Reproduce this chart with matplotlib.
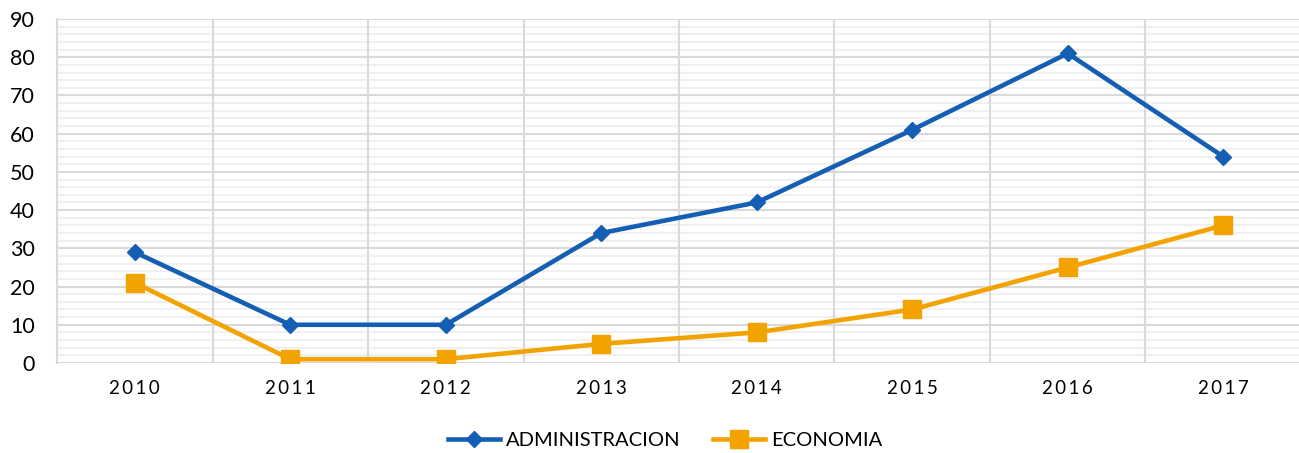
import numpy as np
import matplotlib
matplotlib.use('Agg')
import matplotlib.pyplot as plt
from matplotlib.ticker import MultipleLocator

# data
years = ['2010', '2011', '2012', '2013', '2014', '2015', '2016', '2017']
administracion = [29, 10, 10, 34, 42, 61, 81, 54]
economia = [21, 1, 1, 5, 8, 14, 25, 36]

plt.rcParams['font.family'] = ['Lato', 'DejaVu Sans']

fig = plt.figure(figsize=(12.99, 4.53), dpi=100)
ax = fig.add_axes([57 / 1299, 1 - 363 / 453, 1244 / 1299, 344 / 453])

x = np.arange(len(years))
blue = '#145fb3'
orange = '#f3a300'
ax.plot(x, administracion, color=blue, lw=3.3, marker='D', ms=8.5,
        label='ADMINISTRACION', zorder=3)
ax.plot(x, economia, color=orange, lw=3.3, marker='s', ms=12.5,
        label='ECONOMIA', zorder=3)

ax.set_xlim(-0.5, len(years) - 0.5)
ax.set_ylim(0, 90)
ax.yaxis.set_major_locator(MultipleLocator(10))
ax.yaxis.set_minor_locator(MultipleLocator(2))
ax.set_xticks(x)
ax.set_xticklabels(['\u2009'.join(y) for y in years], fontsize=13.5)
ax.tick_params(axis='x', which='both', length=0, pad=12)
ax.tick_params(axis='y', which='both', length=0, pad=16, labelsize=15.5)

ax.yaxis.grid(True, which='minor', color='#f0f0f0', lw=1.5)
ax.yaxis.grid(True, which='major', color='#d9d9d9', lw=1.5)
ax.xaxis.grid(False)
# category boundary lines
for b in x[:-1] + 0.5:
    ax.axvline(b, color='#d9d9d9', lw=1.5, zorder=1)
ax.set_axisbelow(True)
for s in ['top', 'right', 'bottom']:
    ax.spines[s].set_visible(False)
ax.spines['left'].set_color('#d9d9d9')
ax.spines['left'].set_linewidth(1.5)

ax.legend(loc='center', bbox_to_anchor=(665 / 1299, 1 - 440 / 453),
          bbox_transform=fig.transFigure, ncol=2, frameon=False,
          fontsize=14.5, handlelength=2.6, columnspacing=1.6,
          handletextpad=0.3)

fig.savefig('out.png', dpi=100)
